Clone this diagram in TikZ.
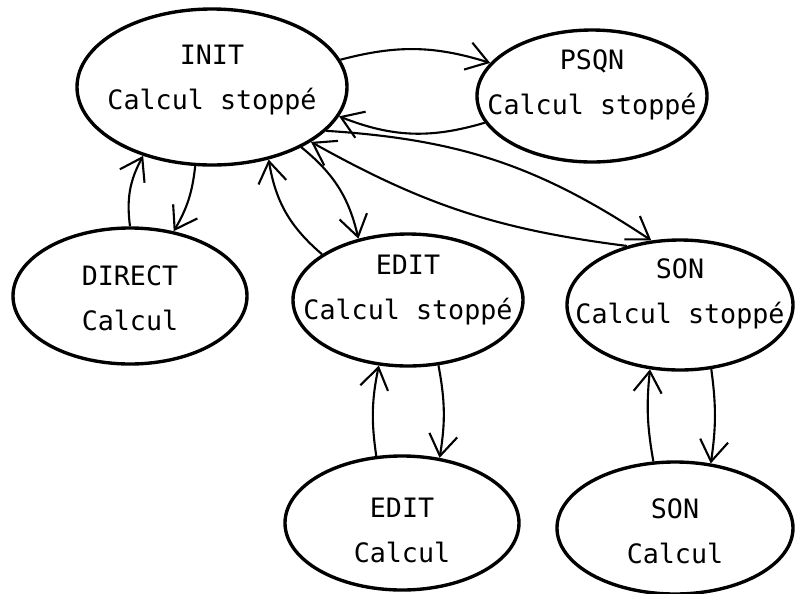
\documentclass[tikz,border=0pt]{standalone}
\usepackage{fontspec}
\setmonofont{DejaVu Sans Mono}
\usetikzlibrary{shapes.geometric, arrows.meta}

% texte d'un etat sur deux lignes, sans largeur (l'ellipse garde sa taille)
\newcommand{\etat}[3][0pt]{\makebox[0pt]{\raisebox{#1}[0pt][0pt]{\begin{tabular}{@{}c@{}}#2\\#3\end{tabular}}}}

\begin{document}
\begin{tikzpicture}[
    etat/.style={ellipse, draw, line width=2.4pt, inner sep=0pt, font=\ttfamily\fontsize{19}{32}\selectfont},
    arrow/.style={-{Straight Barb[length=15pt, width=20pt]}, line width=1.5pt}
]
\useasboundingbox (0,0) rectangle (19.875,-14.825);

% Etats du haut
\node[etat, minimum width=6.75cm, minimum height=3.9cm] (init) at (5.3,-2.175) {\etat[2.4pt]{INIT}{Calcul stoppé}};
\node[etat, minimum width=5.75cm, minimum height=3.3cm] (psqn) at (14.8,-2.4) {\etat[5.2pt]{PSQN}{Calcul stoppé}};

% Etats du milieu
\node[etat, minimum width=5.85cm, minimum height=3.4cm] (direct) at (3.25,-7.4) {\etat[-6.2pt]{DIRECT}{Calcul}};
\node[etat, minimum width=5.75cm, minimum height=3.3cm] (edit) at (10.2,-7.5) {\etat[4.5pt]{EDIT}{Calcul stoppé}};
\node[etat, minimum width=5.65cm, minimum height=3.25cm] (son) at (17.0,-7.625) {\etat[5.2pt]{SON}{Calcul stoppé}};

% Etats du bas
\node[etat, minimum width=5.85cm, minimum height=3.35cm] (editcalc) at (10.05,-13.075) {\etat[-9.7pt]{EDIT}{Calcul}};
\node[etat, minimum width=5.9cm, minimum height=3.3cm] (soncalc) at (16.875,-13.2) {\etat[-6.9pt]{SON}{Calcul}};

% Transitions
\draw[arrow] (init.12) to[bend left=16] (psqn.162);
\draw[arrow] (psqn.-166) to[bend left=19] (init.-13);
\draw[arrow] (init.-21) to[bend left=15] (son.114);
\draw[arrow] (son.132) to[bend left=11] (init.-29);
\draw[arrow] (init.-34) to[bend left=19] (edit.129);
\draw[arrow] (edit.152) to[bend left=20] (init.-52);
\draw[arrow] (direct.90) to[bend left=18] (init.-135);
\draw[arrow] (init.-102) to[bend left=12] (direct.56);
\draw[arrow] (editcalc.111) to[bend left=10] (edit.-114);
\draw[arrow] (edit.-65) to[bend left=10] (editcalc.60);
\draw[arrow] (soncalc.108) to[bend left=8] (son.-115);
\draw[arrow] (son.-64) to[bend left=8] (soncalc.61);

\end{tikzpicture}
\end{document}
